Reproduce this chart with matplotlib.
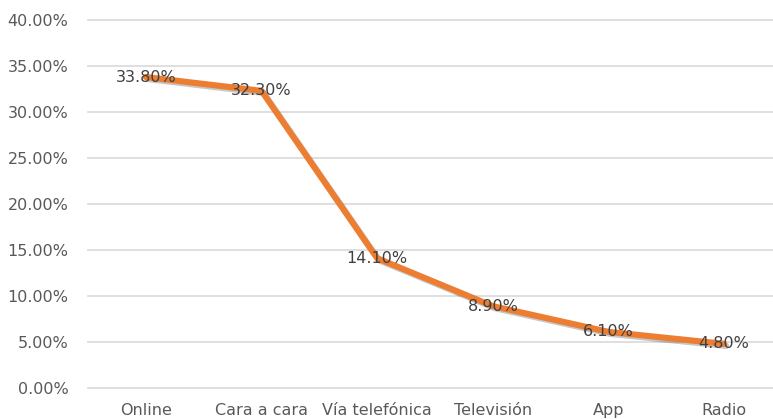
import matplotlib
matplotlib.use("Agg")
import matplotlib.pyplot as plt
import matplotlib.patheffects as pe
from matplotlib.ticker import FuncFormatter

categories = ["Online", "Cara a cara", "Vía telefónica", "Televisión", "App", "Radio"]
values = [33.8, 32.3, 14.1, 8.9, 6.1, 4.8]
yticks = [0, 5, 10, 15, 20, 25, 30, 35, 40]

plt.rcParams['font.family'] = ['DejaVu Sans']

fig = plt.figure(figsize=(7.73, 4.19), dpi=100)
ax = fig.add_axes([88/773, 31/419, 694/773, 368/419])

x = list(range(len(categories)))
ax.plot(x, values, color="#ED7D31", linewidth=4.4, solid_joinstyle="round", solid_capstyle="round",
        path_effects=[pe.SimpleLineShadow(offset=(1.5, -1.5), shadow_color="black", alpha=0.22), pe.Normal()],
        zorder=3)

for xi, v in zip(x, values):
    ax.text(xi, v, f"{v:.2f}%", ha="center", va="center", fontsize=11.5, color="#404040", zorder=4)

ax.set_xlim(-0.5, len(categories) - 0.5)
ax.set_ylim(0, 40)
ax.set_yticks(yticks)
ax.yaxis.set_major_formatter(FuncFormatter(lambda v, p: f"{v:.2f}%"))
ax.set_xticks(x)
ax.set_xticklabels(categories)
ax.grid(axis="y", color="#D9D9D9", linewidth=1.2)
for gl in ax.get_ygridlines():
    gl.set_clip_on(False)
ax.set_axisbelow(True)
for s in ax.spines.values():
    s.set_visible(False)
ax.tick_params(axis="both", length=0, labelsize=11.5, colors="#595959")
ax.tick_params(axis="y", pad=14)
ax.tick_params(axis="x", pad=11)

fig.savefig("out.png", dpi=100)
